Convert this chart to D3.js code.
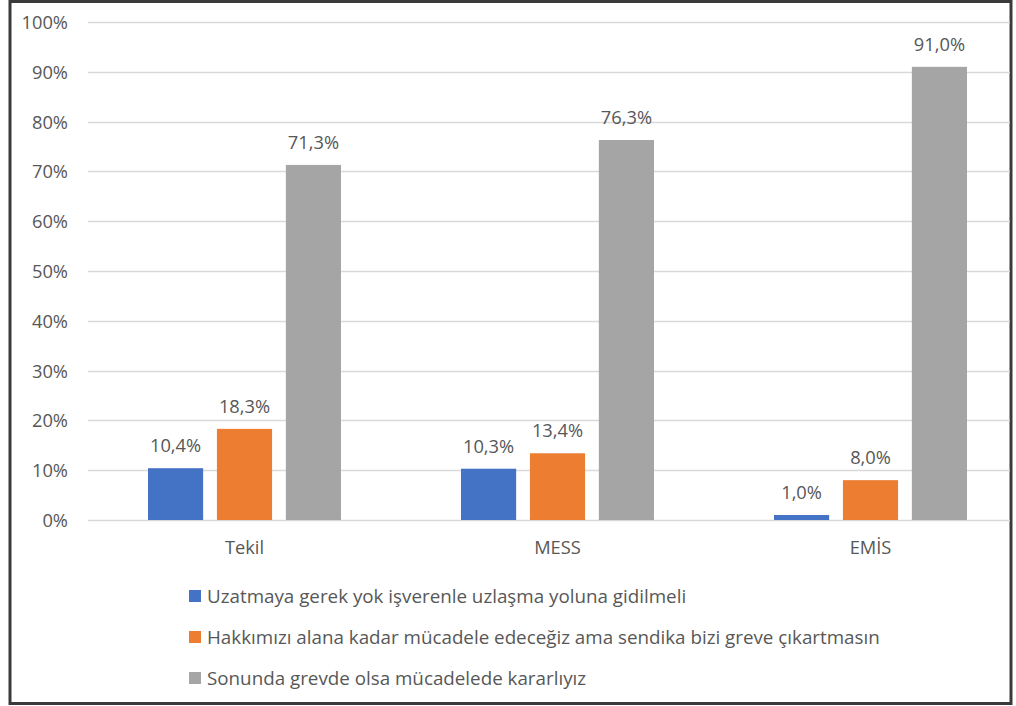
<!DOCTYPE html>
<html>
<head>
<meta charset="utf-8">
<script src="https://cdn.jsdelivr.net/npm/d3@7"></script>
<style>
  html, body { margin: 0; padding: 0; background: #fff; }
  svg { display: block; }
  text { font-family: "Open Sans", Lato, sans-serif; fill: #575757; }
</style>
</head>
<body>
<svg id="chart" width="1016" height="706"></svg>
<script>
// Groups along the x axis
const categories = ["Tekil", "MESS", "EMİS"];

// One entry per response option (percent)
const seriesNames = [
  "Uzatmaya gerek yok işverenle uzlaşma yoluna gidilmeli",
  "Hakkımızı alana kadar mücadele edeceğiz ama sendika bizi greve çıkartmasın",
  "Sonunda grevde olsa mücadelede kararlıyız"
];
const seriesColors = ["#4472C4", "#ED7D31", "#A5A5A5"];
const seriesValues = [
  [10.4, 10.3, 1.0],
  [18.3, 13.4, 8.0],
  [71.3, 76.3, 91.0]
];
const yTicks = [0, 10, 20, 30, 40, 50, 60, 70, 80, 90, 100];

const svg = d3.select("#chart");

// Outer frame
svg.append("rect")
  .attr("x", 10).attr("y", 1.5)
  .attr("width", 1001).attr("height", 702)
  .attr("fill", "#fff").attr("stroke", "#3a3a3a").attr("stroke-width", 3);

const plot = { left: 88, right: 1010, top: 22, bottom: 520 };

const y = d3.scaleLinear().domain([0, 100]).range([plot.bottom, plot.top]);
const x0 = d3.scaleBand().domain(categories).range([plot.left, plot.left + 939]);
const x1 = d3.scaleBand().domain(d3.range(seriesNames.length)).range([0, 193]).paddingInner(0.2);

// Horizontal gridlines
svg.append("g").selectAll("line").data(yTicks).join("line")
  .attr("x1", plot.left).attr("x2", plot.right)
  .attr("y1", d => Math.round(y(d)) + 0.5).attr("y2", d => Math.round(y(d)) + 0.5)
  .attr("stroke", "#D9D9D9").attr("stroke-width", 1.5);

// Y axis labels
const yAxis = d3.axisLeft(y).tickValues(yTicks).tickSize(0).tickPadding(0).tickFormat(d => d + "%");
const gy = svg.append("g").attr("transform", "translate(68,0)").call(yAxis);
gy.select(".domain").remove();
gy.selectAll("text").style("font-size", "18.3px").attr("fill", "#575757").attr("dy", "0.36em");

// X axis labels
const xAxis = d3.axisBottom(x0).tickSize(0).tickPadding(0);
const gx = svg.append("g").attr("transform", `translate(0,${plot.bottom})`).call(xAxis);
gx.select(".domain").remove();
gx.selectAll("text").style("font-size", "18.3px").attr("fill", "#575757").attr("y", 34).attr("dy", 0);

// Bars and value labels
const groupOffset = (x0.bandwidth() - 193) / 2;
const groups = svg.append("g").selectAll("g").data(categories).join("g")
  .attr("transform", d => `translate(${x0(d) + groupOffset},0)`);

groups.each(function(cat, ci) {
  const g = d3.select(this);
  seriesNames.forEach((s, si) => {
    const v = seriesValues[si][ci];
    g.append("rect")
      .attr("x", x1(si)).attr("width", x1.bandwidth())
      .attr("y", y(v)).attr("height", y(0) - y(v))
      .attr("fill", seriesColors[si]);
    g.append("text")
      .attr("x", x1(si) + x1.bandwidth() / 2)
      .attr("y", y(v) - 16)
      .attr("text-anchor", "middle")
      .style("font-size", "18.3px")
      .text(d3.format(".1f")(v).replace(".", ",") + "%");
  });
});

// Legend
const legend = svg.append("g").selectAll("g").data(seriesNames).join("g")
  .attr("transform", (d, i) => `translate(189,${596 + i * 41})`);
legend.append("rect").attr("x", 0).attr("y", -6).attr("width", 12).attr("height", 12)
  .attr("fill", (d, i) => seriesColors[i]);
legend.append("text").attr("x", 18).attr("y", 0).attr("dy", "0.35em")
  .style("font-size", "18.8px").text(d => d);
</script>
</body>
</html>
